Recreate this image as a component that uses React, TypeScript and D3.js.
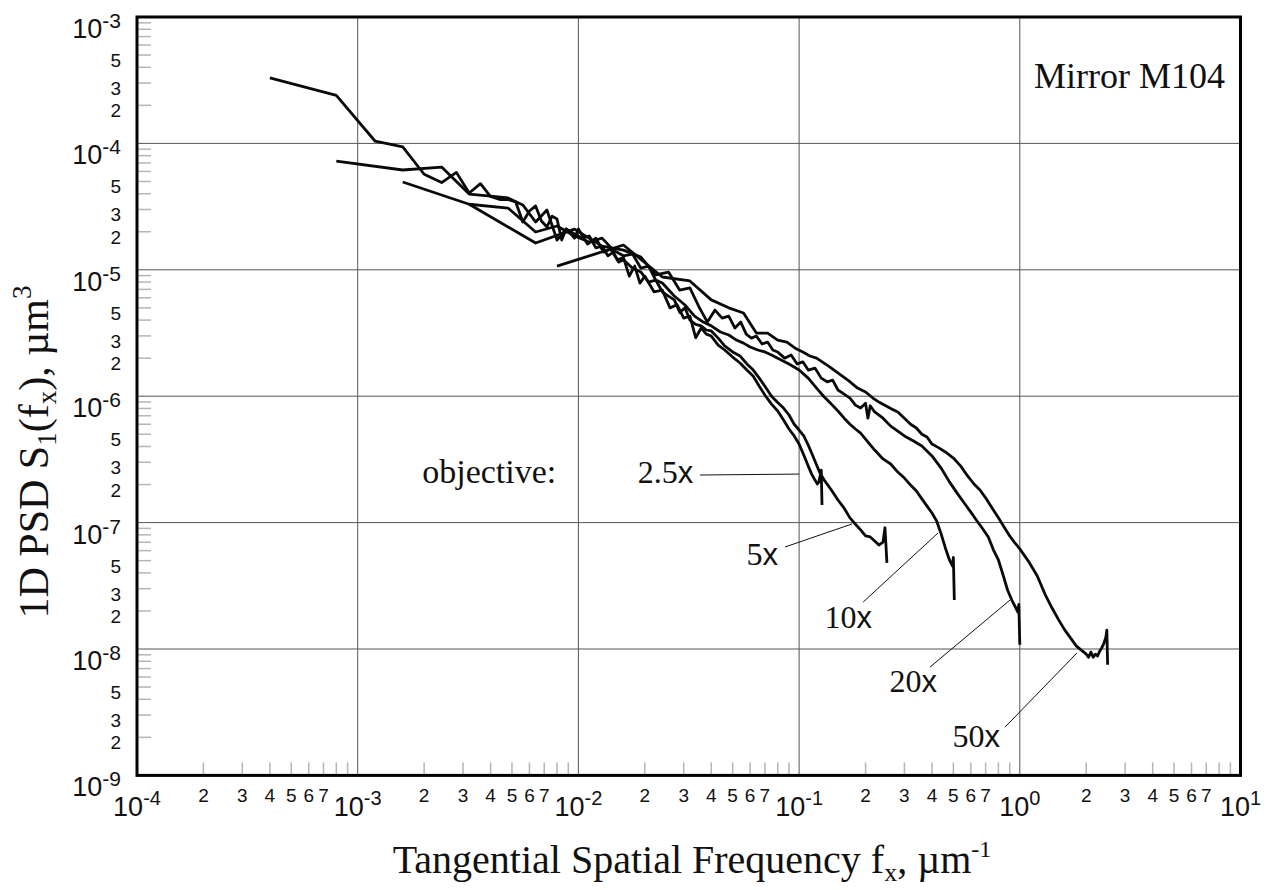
import React from 'react';
import * as d3 from 'd3';

const W = 1274;
const H = 890;

// axis decades and tick labels
const xDecades = [-4, -3, -2, -1, 0, 1];
const yDecades = [-9, -8, -7, -6, -5, -4, -3];
const minorMultipliers = [2, 3, 4, 5, 6, 7, 8, 9];
const xMinorLabels = [2, 3, 4, 5, 6, 7];
const yMinorLabels = [2, 3, 5];

// 1D PSD per objective: [frequency (1/um), PSD (um^3)]
const psd2_5x: [number, number][] = [
  [0.0004, 3.3e-4], [0.0008, 2.4e-4], [0.0012, 1.04e-4], [0.0016, 9.4e-5], [0.002, 5.7e-5],
  [0.0024, 4.9e-5], [0.0028, 5.9e-5], [0.0032, 4.05e-5], [0.0036, 4.8e-5], [0.004, 3.8e-5],
  [0.0044, 3.6e-5], [0.0048, 3.6e-5], [0.0052, 3.44e-5], [0.0056, 2.39e-5], [0.006, 2.92e-5],
  [0.0064, 3.2e-5], [0.0068, 2.43e-5], [0.0072, 2.18e-5], [0.0076, 2.66e-5], [0.008, 2.52e-5],
  [0.0084, 1.72e-5], [0.0088, 2.1e-5], [0.0092, 1.95e-5], [0.0096, 1.78e-5], [0.01, 2.1e-5],
  [0.011, 1.6e-5], [0.012, 1.78e-5], [0.013, 1.38e-5], [0.014, 1.46e-5], [0.015, 1.2e-5],
  [0.016, 1.25e-5], [0.017, 8.9e-6], [0.018, 1.07e-5], [0.019, 7.85e-6], [0.02, 8.9e-6],
  [0.022, 6.7e-6], [0.024, 6.9e-6], [0.026, 5.0e-6], [0.028, 5.3e-6], [0.03, 4.15e-6],
  [0.032, 4.3e-6], [0.034, 2.9e-6], [0.036, 3.46e-6], [0.038, 3.1e-6], [0.04, 2.99e-6],
  [0.043, 2.54e-6], [0.046, 2.32e-6], [0.05, 2.04e-6], [0.054, 1.83e-6], [0.058, 1.61e-6],
  [0.062, 1.44e-6], [0.066, 1.2e-6], [0.07, 1.02e-6], [0.075, 8.66e-7], [0.08, 7.64e-7],
  [0.085, 6.48e-7], [0.09, 5.5e-7], [0.095, 4.85e-7], [0.1, 4.18e-7], [0.105, 3.43e-7],
  [0.11, 2.8e-7], [0.114, 2.42e-7], [0.118, 2.17e-7], [0.121, 2.02e-7], [0.123, 2.1e-7],
  [0.126, 2.6e-7], [0.127, 1.38e-7],
];

const psd5x: [number, number][] = [
  [0.0008, 7.25e-5], [0.0016, 6.16e-5], [0.0024, 6.5e-5], [0.0032, 3.97e-5], [0.004, 3.83e-5],
  [0.0048, 3.7e-5], [0.0056, 3.26e-5], [0.0064, 2.39e-5], [0.0072, 2.97e-5], [0.008, 1.72e-5],
  [0.0088, 2.1e-5], [0.0096, 1.92e-5], [0.0104, 1.78e-5], [0.0112, 1.85e-5], [0.012, 1.49e-5],
  [0.0128, 1.54e-5], [0.0136, 1.29e-5], [0.0144, 1.38e-5], [0.0152, 1.15e-5], [0.016, 1.2e-5],
  [0.0176, 1.03e-5], [0.0192, 9.6e-6], [0.0208, 8.0e-6], [0.0224, 8.3e-6], [0.024, 6.7e-6],
  [0.0256, 6.2e-6], [0.0272, 5.78e-6], [0.0288, 4.6e-6], [0.0304, 5.0e-6], [0.032, 4.0e-6],
  [0.034, 3.7e-6], [0.036, 3.6e-6], [0.038, 3.34e-6], [0.04, 3.28e-6], [0.043, 2.88e-6],
  [0.046, 2.5e-6], [0.05, 2.24e-6], [0.054, 2.08e-6], [0.058, 1.8e-6], [0.062, 1.61e-6],
  [0.066, 1.39e-6], [0.07, 1.2e-6], [0.075, 1.0e-6], [0.08, 8.9e-7], [0.085, 8.06e-7],
  [0.09, 7.1e-7], [0.095, 6.0e-7], [0.1, 5.4e-7], [0.105, 4.85e-7], [0.11, 4.1e-7],
  [0.115, 3.43e-7], [0.12, 2.86e-7], [0.125, 2.42e-7], [0.13, 2.17e-7], [0.14, 1.81e-7],
  [0.15, 1.51e-7], [0.16, 1.3e-7], [0.17, 1.09e-7], [0.18, 9.7e-8], [0.19, 8.76e-8],
  [0.2, 7.84e-8], [0.21, 7.7e-8], [0.22, 7.16e-8], [0.23, 6.64e-8], [0.24, 7.0e-8],
  [0.245, 9.1e-8], [0.25, 4.8e-8],
];

const psd10x: [number, number][] = [
  [0.0016, 4.95e-5], [0.0032, 3.3e-5], [0.0048, 3.08e-5], [0.0064, 1.99e-5], [0.008, 2.22e-5],
  [0.0096, 1.85e-5], [0.0112, 1.66e-5], [0.0128, 1.78e-5], [0.0144, 1.43e-5], [0.016, 1.29e-5],
  [0.0176, 1.33e-5], [0.0192, 1.03e-5], [0.0208, 1.07e-5], [0.0224, 8.3e-6], [0.024, 7.86e-6],
  [0.0272, 6.2e-6], [0.0304, 5.27e-6], [0.0336, 4.3e-6], [0.0368, 3.86e-6], [0.04, 3.6e-6],
  [0.044, 3.22e-6], [0.048, 3.05e-6], [0.052, 2.78e-6], [0.056, 2.63e-6], [0.06, 2.45e-6],
  [0.065, 2.32e-6], [0.07, 2.24e-6], [0.075, 2.12e-6], [0.08, 2.0e-6], [0.09, 1.8e-6],
  [0.1, 1.61e-6], [0.11, 1.39e-6], [0.12, 1.16e-6], [0.13, 9.85e-7], [0.14, 8.66e-7],
  [0.15, 7.64e-7], [0.16, 6.7e-7], [0.17, 6.0e-7], [0.18, 5.5e-7], [0.19, 5.1e-7],
  [0.2, 4.58e-7], [0.22, 3.75e-7], [0.24, 3.19e-7], [0.26, 2.91e-7], [0.28, 2.51e-7],
  [0.3, 2.25e-7], [0.32, 1.98e-7], [0.34, 1.78e-7], [0.36, 1.54e-7], [0.38, 1.35e-7],
  [0.4, 1.19e-7], [0.42, 1.03e-7], [0.44, 8.14e-8], [0.46, 6.3e-8], [0.48, 5.06e-8],
  [0.495, 4.54e-8], [0.5, 5.3e-8], [0.505, 2.44e-8],
];

const psd20x: [number, number][] = [
  [0.0032, 3.3e-5], [0.0064, 1.63e-5], [0.0096, 2.1e-5], [0.0128, 1.54e-5], [0.016, 1.43e-5],
  [0.0192, 1.26e-5], [0.0224, 9.1e-6], [0.0256, 9.6e-6], [0.0288, 6.9e-6], [0.032, 7.2e-6],
  [0.0352, 5.08e-6], [0.0384, 3.86e-6], [0.0416, 4.8e-6], [0.0448, 4.15e-6], [0.048, 4.3e-6],
  [0.0512, 3.46e-6], [0.0544, 3.86e-6], [0.0576, 3.1e-6], [0.0608, 2.88e-6], [0.064, 2.99e-6],
  [0.068, 2.59e-6], [0.072, 2.68e-6], [0.076, 2.32e-6], [0.08, 2.24e-6], [0.086, 2.0e-6],
  [0.092, 2.12e-6], [0.098, 1.8e-6], [0.104, 1.87e-6], [0.11, 1.61e-6], [0.118, 1.67e-6],
  [0.126, 1.39e-6], [0.134, 1.3e-6], [0.142, 1.34e-6], [0.15, 1.12e-6], [0.16, 1.04e-6],
  [0.17, 9.67e-7], [0.18, 8.5e-7], [0.19, 8.06e-7], [0.2, 8.8e-7], [0.205, 6.7e-7],
  [0.21, 8.4e-7], [0.22, 7.5e-7], [0.24, 6.7e-7], [0.26, 5.8e-7], [0.28, 5.3e-7],
  [0.3, 4.85e-7], [0.33, 4.42e-7], [0.36, 4.04e-7], [0.4, 3.37e-7], [0.44, 2.7e-7],
  [0.48, 2.1e-7], [0.52, 1.71e-7], [0.56, 1.43e-7], [0.6, 1.21e-7], [0.64, 1.03e-7],
  [0.68, 8.9e-8], [0.72, 7.7e-8], [0.76, 6.06e-8], [0.8, 5.06e-8], [0.84, 3.85e-8],
  [0.88, 2.93e-8], [0.92, 2.44e-8], [0.96, 2.11e-8], [0.98, 1.96e-8], [0.99, 2.25e-8],
  [1.0, 1.08e-8],
];

const psd50x: [number, number][] = [
  [0.008, 1.07e-5], [0.016, 1.57e-5], [0.024, 8.77e-6], [0.032, 8.16e-6], [0.04, 5.78e-6],
  [0.048, 5.0e-6], [0.056, 4.55e-6], [0.064, 3.16e-6], [0.072, 3.16e-6], [0.08, 2.78e-6],
  [0.088, 2.68e-6], [0.096, 2.4e-6], [0.104, 2.24e-6], [0.112, 2.08e-6], [0.12, 2.0e-6],
  [0.136, 1.73e-6], [0.152, 1.5e-6], [0.168, 1.32e-6], [0.184, 1.16e-6], [0.2, 1.08e-6],
  [0.216, 9.67e-7], [0.232, 8.9e-7], [0.248, 8.36e-7], [0.264, 7.9e-7], [0.28, 7.5e-7],
  [0.3, 6.7e-7], [0.32, 6.0e-7], [0.34, 5.6e-7], [0.36, 5.0e-7], [0.38, 4.75e-7],
  [0.4, 4.18e-7], [0.43, 3.9e-7], [0.46, 3.62e-7], [0.5, 3.24e-7], [0.54, 2.8e-7],
  [0.58, 2.34e-7], [0.62, 2.02e-7], [0.66, 1.81e-7], [0.7, 1.57e-7], [0.75, 1.3e-7],
  [0.8, 1.09e-7], [0.85, 9.2e-8], [0.9, 7.85e-8], [0.95, 6.9e-8], [1.0, 6.2e-8],
  [1.1, 4.88e-8], [1.2, 3.78e-8], [1.3, 2.72e-8], [1.4, 2.11e-8], [1.5, 1.7e-8],
  [1.6, 1.41e-8], [1.7, 1.22e-8], [1.8, 1.06e-8], [1.9, 9.8e-9], [2.0, 9.1e-9],
  [2.05, 8.6e-9], [2.1, 9.45e-9], [2.15, 8.6e-9], [2.2, 9.1e-9], [2.25, 8.8e-9],
  [2.3, 9.6e-9], [2.35, 1.02e-8], [2.4, 1.1e-8], [2.45, 1.22e-8], [2.48, 1.41e-8],
  [2.5, 7.5e-9],
];

const seriesList = [psd2_5x, psd5x, psd10x, psd20x, psd50x];

// objective labels: text anchor (end), leader start, leader end (data coordinates)
const objectiveNames = ['2.5', '5', '10', '20', '50'];
const labelTextPos: [number, number][] = [
  [0.0331, 2.06e-7], [0.0803, 4.62e-8], [0.214, 1.47e-8], [0.421, 4.57e-9], [0.813, 1.68e-9],
];
const leaderFrom: [number, number][] = [
  [0.0356, 2.38e-7], [0.0863, 6.41e-8], [0.195, 2.35e-8], [0.392, 7.2e-9], [0.857, 2.41e-9],
];
const leaderTo: [number, number][] = [
  [0.1, 2.42e-7], [0.1736, 9.75e-8], [0.426, 8.27e-8], [0.903, 2.44e-8], [1.816, 9.3e-9],
];
const objectiveCaptionPos: [number, number] = [0.00196, 2.06e-7];
const titlePos: [number, number] = [8.51, 2.74e-4];

const SANS = '"Liberation Sans", Arial, sans-serif';
const SERIF = '"Liberation Serif", "Times New Roman", serif';

export default function App() {
  const left = 137, right = 1240.5, top = 17, bottom = 775.4;
  const x = d3.scaleLog().domain([1e-4, 10]).range([left, right]);
  const y = d3.scaleLog().domain([1e-9, 1e-3]).range([bottom, top]);
  const line = d3.line<[number, number]>().x(d => x(d[0])).y(d => y(d[1]));

  const xMinor: { v: number; m: number }[] = [];
  xDecades.slice(0, -1).forEach(e => minorMultipliers.forEach(m => xMinor.push({ v: m * Math.pow(10, e), m })));
  const yMinor: { v: number; m: number }[] = [];
  yDecades.slice(0, -1).forEach(e => minorMultipliers.forEach(m => yMinor.push({ v: m * Math.pow(10, e), m })));

  return (
    <svg width={W} height={H} style={{ position: 'absolute', left: 0, top: 0, background: '#fff' }}>
      <rect x={0} y={0} width={W} height={H} fill="#fff" />
      {/* grid */}
      {xDecades.slice(1, -1).map(e => (
        <line key={'gx' + e} x1={x(Math.pow(10, e))} x2={x(Math.pow(10, e))} y1={top} y2={bottom} stroke="#555" strokeWidth={1} />
      ))}
      {yDecades.slice(1, -1).map(e => (
        <line key={'gy' + e} x1={left} x2={right} y1={y(Math.pow(10, e))} y2={y(Math.pow(10, e))} stroke="#555" strokeWidth={1} />
      ))}
      {/* minor ticks */}
      {xMinor.map((t, i) => (
        <line key={'mx' + i} x1={x(t.v)} x2={x(t.v)} y1={bottom} y2={bottom - 13} stroke="#b5b5b5" strokeWidth={1.5} />
      ))}
      {yMinor.map((t, i) => (
        <line key={'my' + i} x1={left} x2={left + 14} y1={y(t.v)} y2={y(t.v)} stroke="#b5b5b5" strokeWidth={1.5} />
      ))}
      {/* curves */}
      {seriesList.map((s, i) => (
        <path key={'s' + i} d={line(s) || ''} fill="none" stroke="#0a0a0a" strokeWidth={2.8} strokeLinejoin="round" />
      ))}
      {/* frame */}
      <rect x={left} y={top} width={right - left} height={bottom - top} fill="none" stroke="#000" strokeWidth={3} />
      {/* x tick labels */}
      {xDecades.map(e => (
        <text key={'xl' + e} x={x(Math.pow(10, e))} y={816} textAnchor="middle" fontFamily={SANS} fontSize={27} fill="#111">
          10<tspan dy={-11} fontSize={20}>{e}</tspan>
        </text>
      ))}
      {xMinor.filter(t => xMinorLabels.includes(t.m)).map((t, i) => (
        <text key={'xml' + i} x={x(t.v)} y={802} textAnchor="middle" fontFamily={SANS} fontSize={19} fill="#111">{t.m}</text>
      ))}
      {/* y tick labels */}
      {yDecades.map(e => (
        <text key={'yl' + e} x={121} y={y(Math.pow(10, e)) + 21} textAnchor="end" fontFamily={SANS} fontSize={27} fill="#111">
          10<tspan dy={-10} fontSize={21}>{e}</tspan>
        </text>
      ))}
      {yMinor.filter(t => yMinorLabels.includes(t.m)).map((t, i) => (
        <text key={'yml' + i} x={121} y={y(t.v) + 12} textAnchor="end" fontFamily={SANS} fontSize={19} fill="#111">{t.m}</text>
      ))}
      {/* axis titles */}
      <text x={692} y={873} textAnchor="middle" fontFamily={SERIF} fontSize={40} fill="#111">
        Tangential Spatial Frequency f<tspan dy={8} fontSize={26}>x</tspan><tspan dy={-8}>, µm</tspan><tspan dy={-16} fontSize={24}>-1</tspan>
      </text>
      <text transform="translate(48,452) rotate(-90)" textAnchor="middle" fontFamily={SERIF} fontSize={42} fill="#111">
        1D PSD S<tspan dy={8} fontSize={27}>1</tspan><tspan dy={-8}>(f</tspan><tspan dy={8} fontSize={27}>x</tspan><tspan dy={-8}>), µm</tspan><tspan dy={-17} fontSize={27}>3</tspan>
      </text>
      {/* annotations */}
      <text x={x(titlePos[0])} y={y(titlePos[1])} textAnchor="end" fontFamily={SERIF} fontSize={36} fill="#111">Mirror M104</text>
      <text x={x(objectiveCaptionPos[0])} y={y(objectiveCaptionPos[1])} fontFamily={SERIF} fontSize={34} fill="#111">objective:</text>
      {objectiveNames.map((n, i) => (
        <g key={'a' + i}>
          <line x1={x(leaderFrom[i][0])} y1={y(leaderFrom[i][1])} x2={x(leaderTo[i][0])} y2={y(leaderTo[i][1])} stroke="#111" strokeWidth={1} />
          <text x={x(labelTextPos[i][0])} y={y(labelTextPos[i][1])} textAnchor="end" fontFamily={SERIF} fontSize={32} fill="#111">
            {n}<tspan fontFamily={SANS} fontSize={31}>x</tspan>
          </text>
        </g>
      ))}
    </svg>
  );
}
